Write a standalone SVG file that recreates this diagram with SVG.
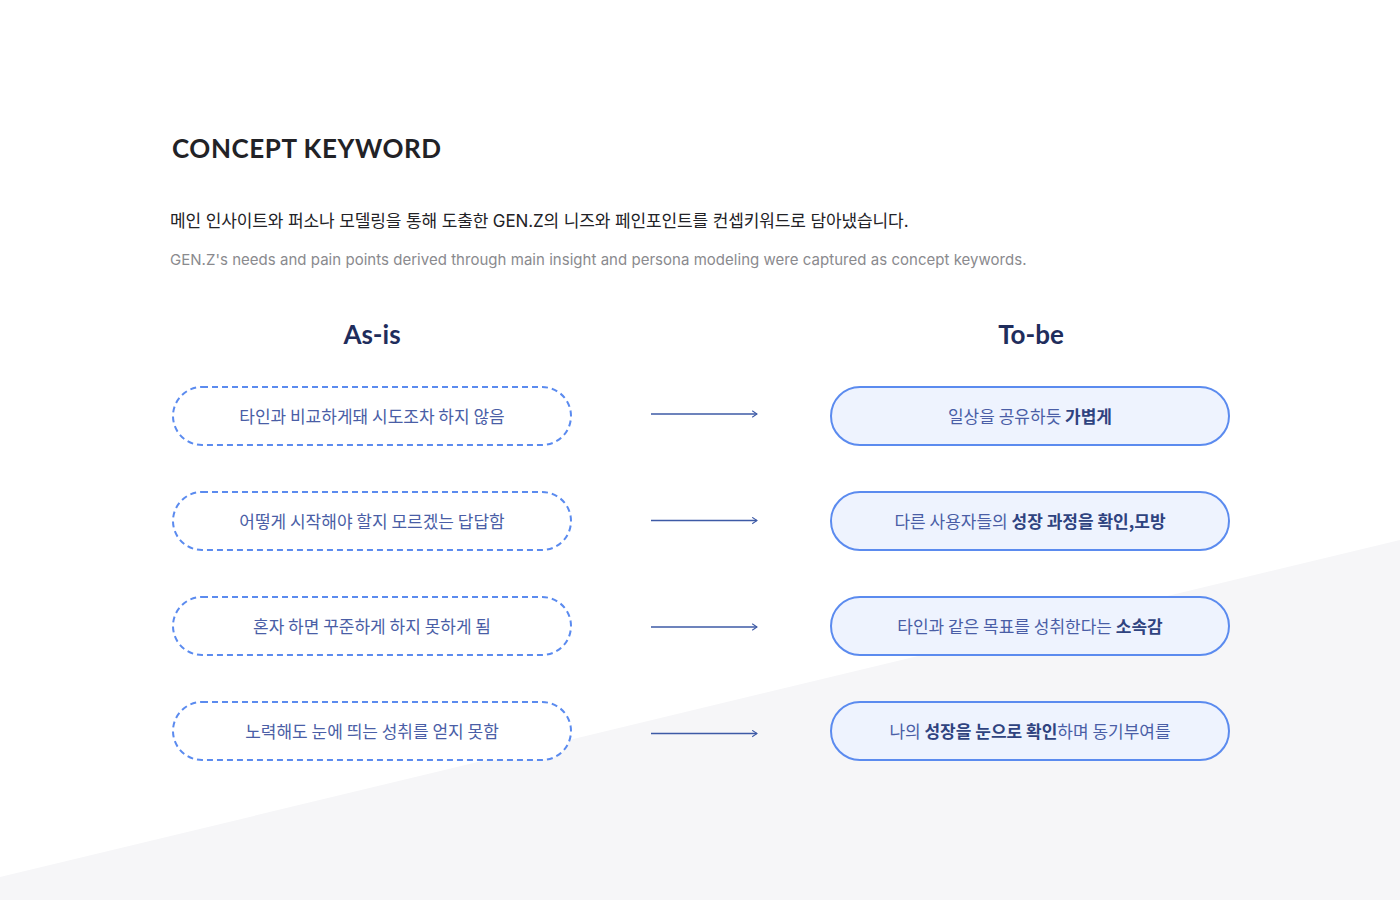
<svg xmlns="http://www.w3.org/2000/svg" width="1400" height="900" viewBox="0 0 1400 900">
<defs>
<style>
.title{font-family:Lato,"Noto Sans",sans-serif;font-weight:700;font-size:26px;fill:#222226;letter-spacing:0.55px}
.kr{font-family:Inter,"Noto Sans CJK KR",sans-serif;font-size:17px;fill:#222226;letter-spacing:-0.12px}
.en{font-family:Inter,"Noto Sans CJK KR",sans-serif;font-size:15px;fill:#8a8a8e;letter-spacing:0.03px}
.head{font-family:Lato,"Noto Sans",sans-serif;font-weight:700;font-size:26px;fill:#1f2d5c;text-anchor:middle}
.asis{fill:#ffffff;stroke:#5b8bef;stroke-width:2;stroke-dasharray:6 4}
.tobe{fill:#eef3fe;stroke:#5b8bef;stroke-width:2}
.lbl{font-family:"Noto Sans CJK KR",sans-serif;font-size:17px;fill:#4a5ea6;text-anchor:middle}
.b{font-weight:700;fill:#2f4380}
.conn{stroke:#3d5aa6;stroke-width:1.3;fill:none}
</style>
<marker id="arr" viewBox="0 0 10 10" refX="9" refY="5" markerWidth="8" markerHeight="8" markerUnits="userSpaceOnUse" orient="auto">
<path d="M3,1 L9,5 L3,9" fill="none" stroke="#3d5aa6" stroke-width="1.3"/>
</marker>
</defs>
<rect width="1400" height="900" fill="#ffffff"/>
<polygon points="0,877 1400,540 1400,900 0,900" fill="#f6f6f8"/>
<text class="title" x="172" y="158">CONCEPT KEYWORD</text>
<text class="kr" x="170" y="227">메인 인사이트와 퍼소나 모델링을 통해 도출한 GEN.Z의 니즈와 페인포인트를 컨셉키워드로 담아냈습니다.</text>
<text class="en" x="170" y="265">GEN.Z's needs and pain points derived through main insight and persona modeling were captured as concept keywords.</text>
<text class="head" x="372" y="344">As-is</text>
<text class="head" x="1031" y="344">To-be</text>
<g id="connectors">
<line class="conn" x1="651" y1="414" x2="757" y2="414" marker-end="url(#arr)"/>
<line class="conn" x1="651" y1="520.5" x2="757" y2="520.5" marker-end="url(#arr)"/>
<line class="conn" x1="651" y1="627" x2="757" y2="627" marker-end="url(#arr)"/>
<line class="conn" x1="651" y1="733.5" x2="757" y2="733.5" marker-end="url(#arr)"/>
</g>
<g id="asis1"><rect class="asis" x="173" y="387" width="398" height="58" rx="29"/><text class="lbl" x="372" y="423">타인과 비교하게돼 시도조차 하지 않음</text></g>
<g id="asis2"><rect class="asis" x="173" y="492" width="398" height="58" rx="29"/><text class="lbl" x="372" y="528">어떻게 시작해야 할지 모르겠는 답답함</text></g>
<g id="asis3"><rect class="asis" x="173" y="597" width="398" height="58" rx="29"/><text class="lbl" x="372" y="633">혼자 하면 꾸준하게 하지 못하게 됨</text></g>
<g id="asis4"><rect class="asis" x="173" y="702" width="398" height="58" rx="29"/><text class="lbl" x="372" y="738">노력해도 눈에 띄는 성취를 얻지 못함</text></g>
<g id="tobe1"><rect class="tobe" x="831" y="387" width="398" height="58" rx="29"/><text class="lbl" x="1030" y="423">일상을 공유하듯 <tspan class="b">가볍게</tspan></text></g>
<g id="tobe2"><rect class="tobe" x="831" y="492" width="398" height="58" rx="29"/><text class="lbl" x="1030" y="528">다른 사용자들의 <tspan class="b">성장 과정을 확인,모방</tspan></text></g>
<g id="tobe3"><rect class="tobe" x="831" y="597" width="398" height="58" rx="29"/><text class="lbl" x="1030" y="633">타인과 같은 목표를 성취한다는 <tspan class="b">소속감</tspan></text></g>
<g id="tobe4"><rect class="tobe" x="831" y="702" width="398" height="58" rx="29"/><text class="lbl" x="1030" y="738">나의 <tspan class="b">성장을 눈으로 확인</tspan>하며 동기부여를</text></g>
</svg>
